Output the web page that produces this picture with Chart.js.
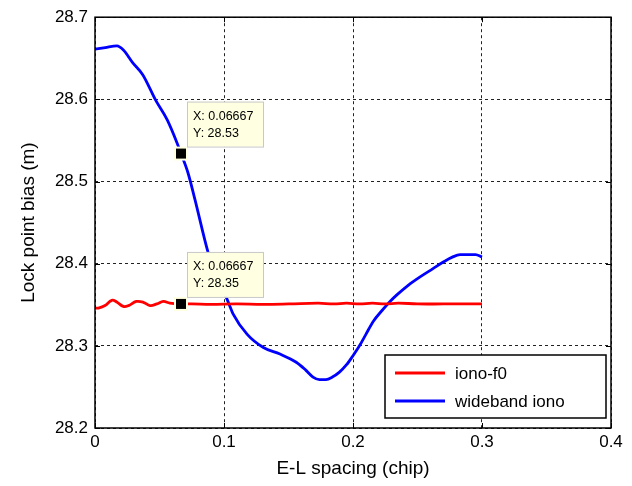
<!DOCTYPE html>
<html>
<head>
<meta charset="utf-8">
<script src="https://cdn.jsdelivr.net/npm/chart.js@4.4.0/dist/chart.umd.min.js"></script>
<style>
  html, body { margin: 0; padding: 0; background: #fff; }
  #wrap { width: 632px; height: 486px; }
</style>
</head>
<body>
<div id="wrap"><canvas id="lockChart" width="632" height="486"></canvas></div>
<script>
// values
const ionoX = [0, 0.0026, 0.0078, 0.013, 0.0168, 0.022, 0.026, 0.032, 0.0375, 0.0426, 0.048, 0.053, 0.058, 0.0667, 0.075, 0.09, 0.11, 0.13, 0.15, 0.173, 0.185, 0.195, 0.205, 0.215, 0.225, 0.235, 0.25, 0.27, 0.3];
const ionoY = [28.346, 28.346, 28.349, 28.3554, 28.3534, 28.348, 28.349, 28.354, 28.353, 28.349, 28.351, 28.354, 28.352, 28.351, 28.351, 28.3505, 28.351, 28.3505, 28.351, 28.352, 28.351, 28.352, 28.351, 28.352, 28.351, 28.352, 28.351, 28.351, 28.351];

const wideX = [0, 0.008, 0.017, 0.022, 0.029, 0.037, 0.047, 0.056, 0.0636, 0.0667, 0.072, 0.0775, 0.0876, 0.095, 0.102, 0.107, 0.118, 0.1305, 0.1434, 0.156, 0.163, 0.169, 0.174, 0.179, 0.184, 0.1895, 0.195, 0.2, 0.205, 0.210, 0.2158, 0.2225, 0.2287, 0.234, 0.243, 0.252, 0.262, 0.270, 0.277, 0.283, 0.295, 0.300];
const wideY = [28.661, 28.663, 28.665, 28.66, 28.645, 28.630, 28.599, 28.575, 28.547, 28.534, 28.511, 28.478, 28.414, 28.38, 28.358, 28.339, 28.314, 28.298, 28.290, 28.280, 28.271, 28.262, 28.259, 28.259, 28.262, 28.268, 28.277, 28.288, 28.300, 28.314, 28.330, 28.343, 28.354, 28.362, 28.374, 28.384, 28.394, 28.402, 28.408, 28.411, 28.411, 28.408];

// data tips (x, y)
const tipX = [0.06667, 0.06667];
const tipY = [28.534, 28.351];

const xTicks = [0, 0.1, 0.2, 0.3, 0.4];
const yTicks = [28.2, 28.3, 28.4, 28.5, 28.6, 28.7];

const FONT = "'Liberation Sans', Arial, Helvetica, sans-serif";

function toPoints(xs, ys) {
  return xs.map((x, i) => ({ x: x, y: ys[i] }));
}

// box, inner ticks, data tips and legend like the original figure
const matlabLook = {
  id: 'matlabLook',
  afterDatasetsDraw(chart) {
    const ctx = chart.ctx;
    const xs = chart.scales.x, ys = chart.scales.y;
    ctx.save();
    for (let i = 0; i < tipX.length; i++) {
      const px = xs.getPixelForValue(tipX[i]);
      const py = ys.getPixelForValue(tipY[i]);
      // marker
      ctx.fillStyle = '#ffffe1';
      ctx.fillRect(px - 7, py - 7, 14, 14);
      ctx.fillStyle = '#000';
      ctx.fillRect(px - 5, py - 5, 10, 10);
      // label box
      const bx = px + 6, by = py - 52;
      ctx.fillStyle = '#ffffe1';
      ctx.fillRect(bx, by, 76, 45);
      ctx.strokeStyle = '#c8c8c8';
      ctx.lineWidth = 1;
      ctx.strokeRect(bx + 0.5, by + 0.5, 76, 45);
      ctx.fillStyle = '#000';
      ctx.font = '12.5px ' + FONT;
      ctx.textAlign = 'left';
      ctx.textBaseline = 'middle';
      ctx.fillText('X: ' + tipX[i].toFixed(5), bx + 6, by + 15);
      ctx.fillText('Y: ' + tipY[i].toFixed(2), bx + 6, by + 32);
    }
    ctx.restore();
  },
  afterDraw(chart) {
    const ctx = chart.ctx;
    const a = chart.chartArea;
    const xs = chart.scales.x, ys = chart.scales.y;
    ctx.save();
    ctx.strokeStyle = '#000';
    ctx.lineWidth = 1;
    // inner tick marks
    ctx.beginPath();
    xTicks.forEach(v => {
      const p = Math.round(xs.getPixelForValue(v)) + 0.5;
      ctx.moveTo(p, a.bottom); ctx.lineTo(p, a.bottom - 5);
      ctx.moveTo(p, a.top); ctx.lineTo(p, a.top + 5);
    });
    yTicks.forEach(v => {
      const p = Math.round(ys.getPixelForValue(v)) + 0.5;
      ctx.moveTo(a.left, p); ctx.lineTo(a.left + 5, p);
      ctx.moveTo(a.right, p); ctx.lineTo(a.right - 5, p);
    });
    ctx.stroke();
    ctx.lineWidth = 1.5;
    ctx.strokeRect(a.left, a.top, a.right - a.left, a.bottom - a.top);

    // legend
    const lx = 385, ly = 355, lw = 221, lh = 63;
    ctx.fillStyle = '#fff';
    ctx.fillRect(lx, ly, lw, lh);
    ctx.lineWidth = 1.5;
    ctx.strokeStyle = '#000';
    ctx.strokeRect(lx, ly, lw, lh);
    ctx.font = '17px ' + FONT;
    ctx.textAlign = 'left';
    ctx.textBaseline = 'middle';
    chart.data.datasets.forEach((ds, i) => {
      const yy = ly + 18 + i * 28;
      ctx.strokeStyle = ds.borderColor;
      ctx.lineWidth = 3;
      ctx.beginPath();
      ctx.moveTo(lx + 10, yy);
      ctx.lineTo(lx + 60, yy);
      ctx.stroke();
      ctx.fillStyle = '#000';
      ctx.fillText(ds.label, lx + 70, yy + 1);
    });
    ctx.restore();
  }
};

const ctx = document.getElementById('lockChart').getContext('2d');
const lockChart = new Chart(ctx, {
  type: 'scatter',
  data: {
    datasets: [
      {
        label: 'iono-f0',
        data: toPoints(ionoX, ionoY),
        showLine: true,
        borderColor: '#ff0000',
        borderWidth: 2.8,
        pointRadius: 0,
        tension: 0.4
      },
      {
        label: 'wideband iono',
        data: toPoints(wideX, wideY),
        showLine: true,
        borderColor: '#0000ff',
        borderWidth: 2.8,
        pointRadius: 0,
        cubicInterpolationMode: 'monotone'
      }
    ]
  },
  options: {
    responsive: false,
    animation: false,
    layout: { padding: { top: 13, right: 21, left: 0, bottom: 0 } },
    scales: {
      x: {
        type: 'linear',
        min: 0,
        max: 0.4,
        afterFit: s => { s.height = 58; },
        afterBuildTicks: s => { s.ticks = xTicks.map(v => ({ value: v })); },
        ticks: {
          color: '#000',
          padding: 4,
          maxRotation: 0,
          font: { family: FONT, size: 17 },
          callback: v => String(v)
        },
        grid: { color: '#222', lineWidth: 1, drawTicks: false },
        border: { display: false, dash: [3, 3] },
        title: {
          display: true,
          text: 'E-L spacing (chip)',
          color: '#000',
          font: { family: FONT, size: 19 },
          padding: { top: 0, bottom: 6 }
        }
      },
      y: {
        type: 'linear',
        min: 28.2,
        max: 28.7,
        afterFit: s => { s.width = 95; },
        afterBuildTicks: s => { s.ticks = yTicks.map(v => ({ value: v })); },
        ticks: {
          color: '#000',
          padding: 7,
          font: { family: FONT, size: 17 },
          callback: v => v.toFixed(1)
        },
        grid: { color: '#222', lineWidth: 1, drawTicks: false },
        border: { display: false, dash: [3, 3] },
        title: {
          display: true,
          text: 'Lock point bias (m)',
          color: '#000',
          font: { family: FONT, size: 19 },
          padding: { top: 17, bottom: 0 }
        }
      }
    },
    plugins: {
      legend: { display: false },
      tooltip: { enabled: false }
    }
  },
  plugins: [matlabLook]
});
</script>
</body>
</html>
